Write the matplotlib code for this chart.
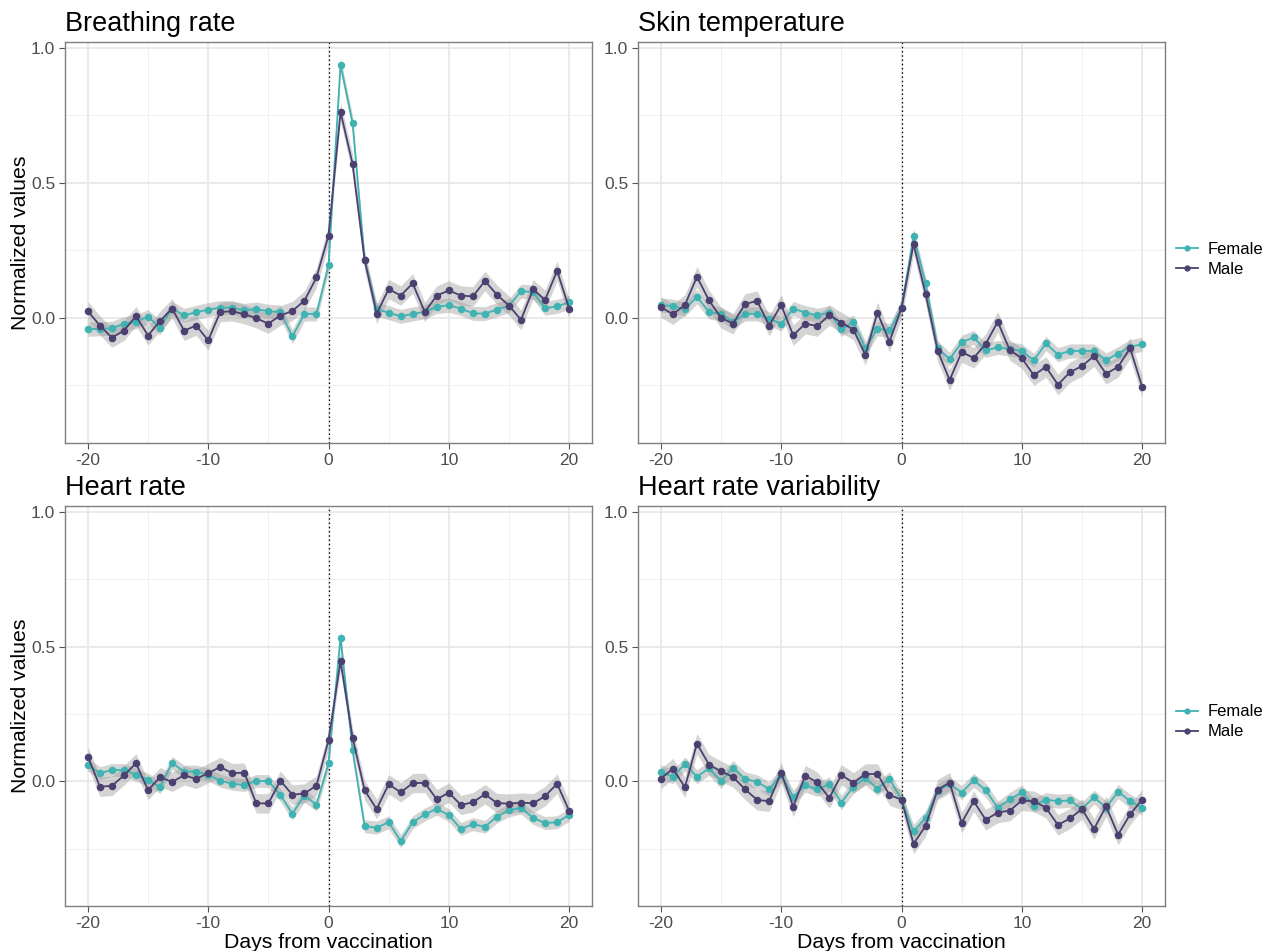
import matplotlib
matplotlib.use("Agg")
import matplotlib.pyplot as plt
from matplotlib.lines import Line2D
import numpy as np

plt.rcParams['font.family'] = ['Liberation Sans', 'DejaVu Sans']
plt.rcParams['axes.unicode_minus'] = False

days = list(range(-20, 21))

breathing_female = [-0.042, -0.040, -0.038, -0.021, -0.014, 0.005, -0.036, 0.035, 0.010, 0.021,
                    0.031, 0.038, 0.038, 0.028, 0.033, 0.025, 0.022, -0.068, 0.015, 0.015,
                    0.195, 0.938, 0.722, 0.215, 0.032, 0.020, 0.006, 0.015, 0.023, 0.042,
                    0.047, 0.035, 0.017, 0.016, 0.031, 0.046, 0.099, 0.096, 0.036, 0.043, 0.058]
breathing_male = [0.025, -0.028, -0.073, -0.047, 0.007, -0.065, -0.011, 0.035, -0.047, -0.028,
                  -0.083, 0.022, 0.025, 0.014, -0.001, -0.021, 0.009, 0.026, 0.064, 0.150,
                  0.305, 0.763, 0.570, 0.215, 0.015, 0.107, 0.083, 0.128, 0.022, 0.083,
                  0.102, 0.083, 0.080, 0.137, 0.086, 0.046, -0.007, 0.106, 0.067, 0.175, 0.035]

skin_female = [0.048, 0.044, 0.032, 0.079, 0.022, 0.015, -0.015, 0.015, 0.015, -0.002,
               -0.022, 0.035, 0.020, 0.010, 0.020, -0.042, -0.015, -0.112, -0.040, -0.046,
               0.037, 0.304, 0.128, -0.110, -0.153, -0.090, -0.072, -0.120, -0.109, -0.115,
               -0.122, -0.157, -0.094, -0.136, -0.122, -0.122, -0.122, -0.156, -0.132, -0.106, -0.098]
skin_male = [0.040, 0.014, 0.048, 0.153, 0.065, 0.001, -0.021, 0.052, 0.063, -0.028,
             0.048, -0.064, -0.021, -0.030, 0.011, -0.017, -0.043, -0.137, 0.020, -0.088,
             0.037, 0.274, 0.089, -0.121, -0.230, -0.126, -0.148, -0.096, -0.014, -0.119,
             -0.149, -0.212, -0.181, -0.247, -0.201, -0.178, -0.141, -0.207, -0.181, -0.112, -0.254]

hr_female = [0.062, 0.030, 0.042, 0.042, 0.024, 0.006, -0.022, 0.068, 0.036, 0.036,
             0.025, 0.002, -0.009, -0.014, 0.001, 0.001, -0.051, -0.120, -0.053, -0.087,
             0.067, 0.533, 0.115, -0.167, -0.172, -0.152, -0.222, -0.152, -0.123, -0.102,
             -0.126, -0.177, -0.159, -0.169, -0.131, -0.108, -0.098, -0.136, -0.155, -0.152, -0.125]
hr_male = [0.092, -0.020, -0.017, 0.022, 0.067, -0.033, 0.015, -0.002, 0.022, 0.009,
           0.030, 0.053, 0.030, 0.032, -0.082, -0.082, 0.002, -0.050, -0.045, -0.016,
           0.152, 0.446, 0.162, -0.033, -0.103, -0.011, -0.041, -0.007, -0.006, -0.067,
           -0.042, -0.088, -0.078, -0.048, -0.081, -0.083, -0.079, -0.082, -0.055, -0.009, -0.110]

hrv_female = [0.035, 0.017, 0.064, 0.017, 0.048, 0.000, 0.051, 0.009, -0.002, -0.029,
              0.025, -0.058, -0.015, -0.030, -0.010, -0.079, -0.020, 0.012, -0.027, 0.010,
              -0.068, -0.186, -0.135, -0.037, -0.009, -0.042, 0.004, -0.033, -0.099, -0.067,
              -0.040, -0.090, -0.068, -0.074, -0.071, -0.102, -0.059, -0.098, -0.038, -0.074, -0.099]
hrv_male = [0.010, 0.047, -0.022, 0.140, 0.062, 0.037, 0.016, -0.030, -0.069, -0.074,
            0.032, -0.094, 0.021, -0.004, -0.062, 0.024, -0.006, 0.027, 0.027, -0.051,
            -0.068, -0.232, -0.166, -0.031, -0.005, -0.154, -0.074, -0.143, -0.116, -0.109,
            -0.071, -0.074, -0.098, -0.162, -0.138, -0.103, -0.177, -0.093, -0.198, -0.123, -0.068]

# ribbon half-widths (confidence band) per panel: (female, male)
band_halfwidth = {
    "Breathing rate": (0.026, 0.036),
    "Skin temperature": (0.026, 0.038),
    "Heart rate": (0.024, 0.036),
    "Heart rate variability": (0.026, 0.038),
}

panels = [
    ("Breathing rate", breathing_female, breathing_male),
    ("Skin temperature", skin_female, skin_male),
    ("Heart rate", hr_female, hr_male),
    ("Heart rate variability", hrv_female, hrv_male),
]

sex_labels = ["Female", "Male"]
female_color = "#3FB3B2"
male_color = "#4B4070"

W, H = 1287, 951
fig = plt.figure(figsize=(W / 100, H / 100), dpi=100)

def frac(left, top, right, bottom):
    return [left / W, 1 - bottom / H, (right - left) / W, (bottom - top) / H]

rects = [frac(65, 42, 592, 443), frac(638, 42, 1165, 443),
         frac(65, 506, 592, 906), frac(638, 506, 1165, 906)]

for i, ((title, fem, mal), rect) in enumerate(zip(panels, rects)):
    ax = fig.add_axes(rect)
    x = np.array(days)
    bf, bm = band_halfwidth[title]
    for vals, col, bw in ((fem, female_color, bf), (mal, male_color, bm)):
        v = np.array(vals)
        ax.fill_between(x, v - bw, v + bw, color="#999999", alpha=0.42, linewidth=0, zorder=2)
    for vals, col in ((fem, female_color), (mal, male_color)):
        ax.plot(x, vals, color=col, lw=1.3, marker='o', markersize=4.4, zorder=3)
    ax.axvline(0, color="black", lw=0.9, ls=(0, (1.2, 2.2)), zorder=2.5)
    ax.set_xlim(-21.9, 21.9)
    ax.set_ylim(-0.463, 1.022)
    ax.set_xticks([-20, -10, 0, 10, 20])
    ax.set_xticklabels(["-20", "-10", "0", "10", "20"])
    ax.set_xticks([-15, -5, 5, 15], minor=True)
    ax.set_yticks([0.0, 0.5, 1.0])
    ax.set_yticklabels(["0.0", "0.5", "1.0"])
    ax.set_yticks([-0.25, 0.25, 0.75], minor=True)
    ax.grid(True, which='major', color="#E6E6E6", lw=1.2, zorder=0)
    ax.grid(True, which='minor', color="#F0F0F0", lw=0.7, zorder=0)
    ax.set_axisbelow(True)
    ax.tick_params(which='major', direction='out', length=4, width=0.8, color="#555555",
                   labelsize=12.5, labelcolor="#4D4D4D", pad=3)
    ax.tick_params(which='minor', length=0)
    for sp in ax.spines.values():
        sp.set_color("#7F7F7F")
        sp.set_linewidth(1.0)
    ax.set_title(title, loc='left', fontsize=19.5, color="black", pad=8)
    if i % 2 == 0:
        ax.set_ylabel("Normalized values", fontsize=15.3, color="black", labelpad=1)
    if i >= 2:
        ax.set_xlabel("Days from vaccination", fontsize=15.3, color="black", labelpad=2)

handles = [Line2D([0], [0], color=female_color, lw=1.3, marker='o', markersize=3.5),
           Line2D([0], [0], color=male_color, lw=1.3, marker='o', markersize=3.5)]
for yc in (259, 722):
    fig.legend(handles, sex_labels, loc='center left',
               bbox_to_anchor=(1176 / W, 1 - yc / H), frameon=False,
               fontsize=12, handlelength=1.3, handletextpad=0.6, labelspacing=0.3,
               borderaxespad=0, borderpad=0)

fig.savefig("out.png", dpi=100)
